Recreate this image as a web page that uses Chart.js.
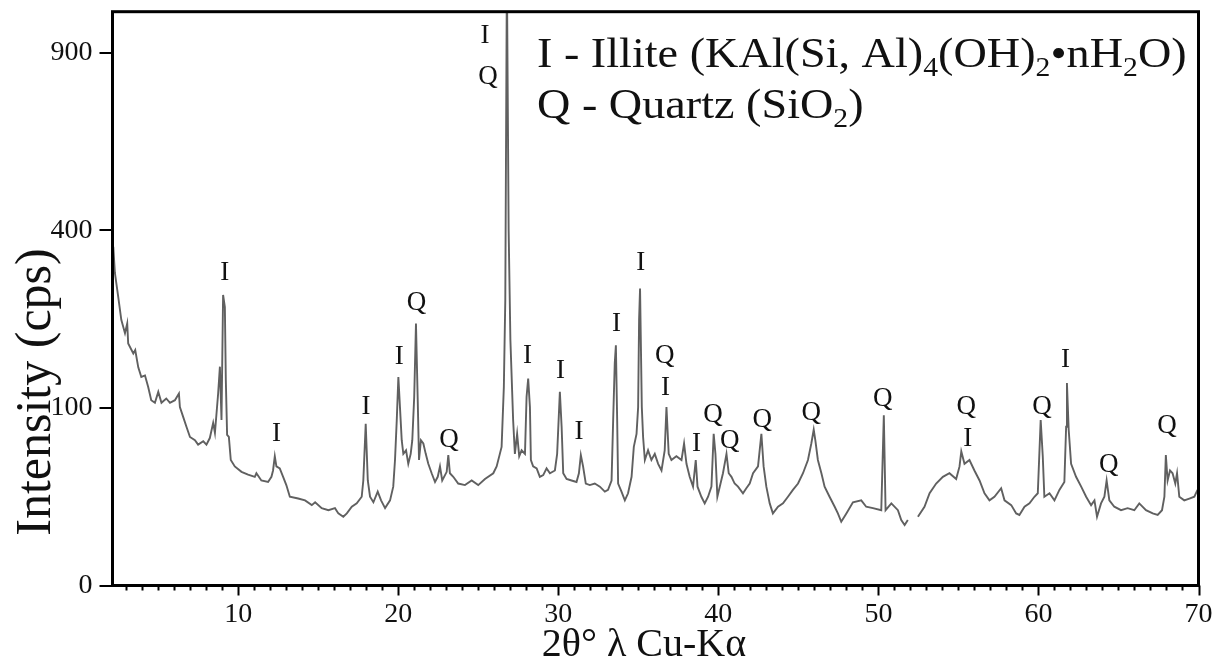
<!DOCTYPE html>
<html>
<head>
<meta charset="utf-8">
<script src="https://cdn.jsdelivr.net/npm/chart.js@4.4.1/dist/chart.umd.min.js"></script>
<style>
  html, body { margin: 0; padding: 0; background: #fff; }
  #wrap { width: 1222px; height: 664px; }
</style>
</head>
<body>
<div id="wrap"><canvas id="xrd" width="1222" height="664"></canvas></div>
<script>
// Diffraction angle 2θ (degrees) and measured intensity (cps); null marks a gap in the scan.
const twoTheta = [
  2.20, 2.30, 2.51, 2.70, 2.93, 3.07, 3.13, 3.45, 3.57, 3.76, 3.95, 4.18, 4.38, 4.57, 4.80, 5.01,
  5.21, 5.51, 5.74, 6.05, 6.30, 6.36, 6.57, 6.77, 6.99, 7.30, 7.50, 7.82, 8.02, 8.23, 8.44, 8.55,
  8.75, 8.86, 8.96, 9.06, 9.17, 9.23, 9.31, 9.42, 9.54, 9.79, 10.21, 10.62, 11.04, 11.14, 11.45, 11.87,
  12.08, 12.18, 12.29, 12.39, 12.60, 12.81, 13.01, 13.23, 13.75, 14.18, 14.60, 14.81, 15.22, 15.64, 16.05, 16.26,
  16.57, 16.79, 17.10, 17.41, 17.72, 17.82, 17.97, 18.10, 18.24, 18.45, 18.72, 18.93, 19.18, 19.49, 19.69, 19.80,
  19.91, 20.01, 20.11, 20.22, 20.32, 20.49, 20.63, 20.78, 20.88, 21.00, 21.11, 21.22, 21.30, 21.42, 21.57, 21.72,
  21.88, 22.09, 22.30, 22.47, 22.61, 22.75, 23.03, 23.13, 23.23, 23.44, 23.75, 24.17, 24.59, 25.00, 25.42, 25.94,
  26.15, 26.35, 26.46, 26.60, 26.69, 26.79, 26.90, 27.01, 27.18, 27.29, 27.43, 27.56, 27.71, 27.92, 28.02, 28.12,
  28.23, 28.29, 28.43, 28.65, 28.85, 29.06, 29.27, 29.48, 29.79, 29.93, 30.10, 30.21, 30.31, 30.52, 30.83, 31.14,
  31.29, 31.41, 31.55, 31.72, 31.97, 32.28, 32.60, 32.91, 33.11, 33.33, 33.43, 33.53, 33.60, 33.68, 33.74, 33.95,
  34.16, 34.36, 34.58, 34.72, 34.89, 34.99, 35.05, 35.11, 35.22, 35.30, 35.41, 35.61, 35.82, 36.03, 36.24, 36.45,
  36.65, 36.76, 36.90, 37.07, 37.38, 37.70, 37.86, 38.01, 38.21, 38.42, 38.59, 38.70, 38.94, 39.15, 39.36, 39.57,
  39.71, 39.82, 39.94, 40.09, 40.29, 40.51, 40.65, 40.82, 41.02, 41.23, 41.54, 41.75, 41.96, 42.17, 42.48, 42.69,
  42.83, 43.00, 43.21, 43.41, 43.73, 44.04, 44.35, 44.66, 44.98, 45.29, 45.60, 45.81, 45.96, 46.06, 46.22, 46.44,
  46.64, 46.95, 47.27, 47.47, 47.68, 48.00, 48.41, 48.93, 49.24, 49.66, 50.18, 50.34, 50.45, 50.81, 51.22, 51.43,
  51.64, 51.84, 52.15, 52.47, 52.88, 53.20, 53.61, 54.03, 54.44, 54.86, 55.07, 55.18, 55.38, 55.69, 56.00, 56.32,
  56.63, 56.94, 57.25, 57.67, 57.88, 58.30, 58.61, 58.81, 59.13, 59.44, 59.75, 59.96, 60.14, 60.27, 60.37, 60.69,
  61.00, 61.31, 61.62, 61.73, 61.78, 61.89, 62.04, 62.35, 62.67, 62.98, 63.29, 63.50, 63.66, 63.91, 64.12, 64.26,
  64.43, 64.74, 65.16, 65.57, 65.99, 66.30, 66.72, 67.14, 67.45, 67.72, 67.87, 67.96, 68.07, 68.22, 68.38, 68.55,
  68.66, 68.80, 69.11, 69.43, 69.74, 69.94
];
const intensity = [
  364, 310, 264, 224, 202, 218, 186, 171, 176, 151, 138, 140, 125, 109, 106, 119,
  106, 111, 106, 109, 117, 101, 90, 80, 70, 67, 63, 66, 63, 69, 84, 74,
  117, 152, 87, 268, 246, 134, 72, 70, 50, 45, 41, 39, 37.5, 40, 35, 34,
  37.5, 42, 53, 45, 43.5, 37.5, 32, 25, 24, 23, 20.5, 22, 19, 18, 19, 16.5,
  15, 16.5, 19.7, 21.4, 25, 35, 83, 35, 25, 22, 28, 23, 19, 23, 31, 50,
  87, 138, 101, 67, 55, 58, 47, 55, 67, 113, 218, 109, 50, 67, 64, 55,
  47, 40, 34, 37.5, 45, 35, 41, 54, 40, 37.5, 33, 32, 35, 32, 36, 40,
  45, 55, 61, 125, 258, 1200, 400, 191, 87, 55, 73, 53, 58, 55, 113, 136,
  101, 50, 45, 43.5, 37.5, 38.7, 43.5, 40, 42, 55, 119, 80, 40, 36, 35, 34,
  40, 54, 45, 33, 32, 33, 31, 28, 29, 35, 87, 157, 183, 87, 33, 28,
  23, 27, 37.5, 61, 73, 101, 224, 280, 101, 70, 50, 58, 50, 55, 47, 42,
  58, 101, 55, 50, 53, 50, 64, 47, 37.5, 31, 50, 31, 25, 21.4, 25, 31,
  73, 55, 25, 31, 40, 55, 40, 37.5, 33, 31, 27, 30, 33, 40, 45, 73,
  45, 31, 21.4, 16.5, 19.7, 21.4, 25, 29, 33, 40, 50, 64, 77, 67, 50, 40,
  31, 25, 19.7, 16.5, 12.9, 16.5, 22, 23, 19.7, 19, 18, 92, 18, 21.4, 18, 13.6,
  11.6, 13.6, null, 15, 19.7, 27, 33, 37.5, 40, 36, 45, 57, 47, 50, 42, 35,
  27, 23, 25, 30, 23, 20.5, 16.5, 15.8, 19.7, 21.4, 25, 27, 87, 53, 25, 27,
  23, 29, 34, 80, 130, 77, 47, 37.5, 31, 25, 20.5, 23, 15, 21.4, 25, 35,
  23, 19.7, 18, 19, 18, 21.4, 18, 16.5, 15.8, 18, 25, 54, 35, 42, 40, 33,
  40, 25, 23, 24, 25, 29
];

// Axis ticks
const xTickValues = [10, 20, 30, 40, 50, 60, 70];
const xMinorStep = 1;
const yTickValues = [0, 100, 400, 900];

// Phase markers: I = illite, Q = quartz, placed at (2θ, cps)
const peakLabelText  = ['I', 'I', 'I', 'I', 'Q', 'Q', 'I', 'Q', 'I', 'I', 'I', 'I', 'I', 'Q', 'I', 'I', 'Q', 'Q', 'Q', 'Q', 'Q', 'Q', 'I', 'Q', 'I', 'Q', 'Q'];
const peakLabelTheta = [9.17, 12.39, 17.99, 20.07, 21.14, 23.17, 25.42, 25.61, 28.08, 30.14, 31.30, 33.64, 35.16, 36.65, 36.70, 38.63, 39.67, 40.71, 42.75, 45.81, 50.28, 55.49, 55.59, 60.23, 61.69, 64.39, 68.03];
const peakLabelCps   = [311, 73, 101, 166, 253, 67, 957, 820, 167, 146, 75, 217, 330, 167, 124, 63.5, 92, 66, 87, 94, 110, 101, 68, 101, 161, 46, 81];

// Legend lines: [text, isSubscript]
const legendLines = [
  [['I - Illite (KAl(Si, Al)', false], ['4', true], ['(OH)', false], ['2', true], ['\u2022nH', false], ['2', true], ['O)', false]],
  [['Q - Quartz (SiO', false], ['2', true], [')', false]]
];

const SERIF = '"Liberation Serif", "Times New Roman", serif';
const INK = '#111';

// Square-root intensity axis
class SqrtScale extends Chart.LinearScale {
  static id = 'sqrt';
  static defaults = {};
  _sqrtBounds() {
    return [Math.sqrt(Math.max(0, this.min)), Math.sqrt(Math.max(0, this.max))];
  }
  getPixelForValue(value) {
    if (value === null || value === undefined || isNaN(value)) return NaN;
    const [s0, s1] = this._sqrtBounds();
    return this.getPixelForDecimal((Math.sqrt(Math.max(0, value)) - s0) / (s1 - s0));
  }
  getValueForPixel(pixel) {
    const [s0, s1] = this._sqrtBounds();
    const s = s0 + this.getDecimalForPixel(pixel) * (s1 - s0);
    return s * s;
  }
}
Chart.register(SqrtScale);

const decorations = {
  id: 'decorations',
  beforeDraw(chart) {
    const ctx = chart.ctx;
    ctx.save();
    ctx.fillStyle = '#fff';
    ctx.fillRect(0, 0, chart.width, chart.height);
    ctx.restore();
  },
  afterDraw(chart) {
    const { ctx, chartArea: a, scales: { x, y } } = chart;
    ctx.save();

    // frame
    ctx.strokeStyle = '#000';
    ctx.lineWidth = 3;
    ctx.strokeRect(a.left, a.top, a.right - a.left, a.bottom - a.top);

    // x ticks: majors longer, minors every degree
    ctx.lineWidth = 2;
    ctx.beginPath();
    for (let v = Math.ceil(x.min); v <= x.max + 1e-9; v += xMinorStep) {
      const px = Math.round(x.getPixelForValue(v)) + 0.5;
      const len = xTickValues.includes(v) ? 10 : 5;
      ctx.moveTo(px, a.bottom);
      ctx.lineTo(px, a.bottom + len);
    }
    // y ticks
    yTickValues.forEach(v => {
      const py = Math.round(y.getPixelForValue(v));
      ctx.moveTo(a.left - 13, py);
      ctx.lineTo(a.left, py);
    });
    ctx.stroke();

    // phase markers
    ctx.fillStyle = INK;
    ctx.font = '27px ' + SERIF;
    ctx.textAlign = 'center';
    ctx.textBaseline = 'middle';
    peakLabelText.forEach((t, i) => {
      ctx.fillText(t, x.getPixelForValue(peakLabelTheta[i]), y.getPixelForValue(peakLabelCps[i]));
    });

    // legend with subscripts (slightly widened serif face)
    ctx.textAlign = 'left';
    ctx.textBaseline = 'alphabetic';
    const legendX = 537, legendBase = [67, 118], widen = 1.1;
    legendLines.forEach((parts, li) => {
      ctx.save();
      ctx.translate(legendX, legendBase[li]);
      ctx.scale(widen, 1);
      let cx = 0;
      parts.forEach(([txt, sub]) => {
        ctx.font = (sub ? '27px ' : '42px ') + SERIF;
        ctx.fillText(txt, cx, sub ? 9 : 0);
        cx += ctx.measureText(txt).width;
      });
      ctx.restore();
    });

    // axis titles
    ctx.font = '40px ' + SERIF;
    ctx.textAlign = 'center';
    ctx.fillText('2\u03b8\u00b0 \u03bb Cu-K\u03b1', 644, 656);

    ctx.save();
    ctx.translate(50, 392);
    ctx.rotate(-Math.PI / 2);
    ctx.font = '50px ' + SERIF;
    ctx.fillText('Intensity (cps)', 0, 0);
    ctx.restore();

    ctx.restore();
  }
};

new Chart(document.getElementById('xrd'), {
  type: 'line',
  data: {
    datasets: [{
      data: twoTheta.map((t, i) => ({ x: t, y: intensity[i] })),
      borderColor: '#606060',
      borderWidth: 1.9,
      pointRadius: 0,
      tension: 0,
      spanGaps: false
    }]
  },
  options: {
    responsive: false,
    animation: false,
    events: [],
    layout: { padding: { left: 0, right: 23.5, top: 11.7, bottom: 0 } },
    plugins: { legend: { display: false }, tooltip: { enabled: false } },
    scales: {
      x: {
        type: 'linear',
        position: 'bottom',
        min: 2.15,
        max: 70,
        afterBuildTicks: s => { s.ticks = xTickValues.map(v => ({ value: v })); },
        afterFit: s => { s.height = 78.5; s.paddingLeft = 0; s.paddingRight = 0; },
        grid: { display: false, drawTicks: false },
        border: { display: false },
        ticks: {
          padding: 12,
          color: INK,
          autoSkip: false,
          maxRotation: 0,
          font: { family: SERIF, size: 28 },
          callback: v => String(v)
        }
      },
      y: {
        type: 'sqrt',
        position: 'left',
        min: 0,
        max: 1045,
        afterBuildTicks: s => { s.ticks = yTickValues.map(v => ({ value: v })); },
        afterFit: s => { s.width = 112.5; s.paddingTop = 0; s.paddingBottom = 0; },
        grid: { display: false, drawTicks: false },
        border: { display: false },
        ticks: {
          padding: 20,
          color: INK,
          autoSkip: false,
          font: { family: SERIF, size: 28 },
          callback: v => String(v)
        }
      }
    }
  },
  plugins: [decorations]
});
</script>
</body>
</html>
